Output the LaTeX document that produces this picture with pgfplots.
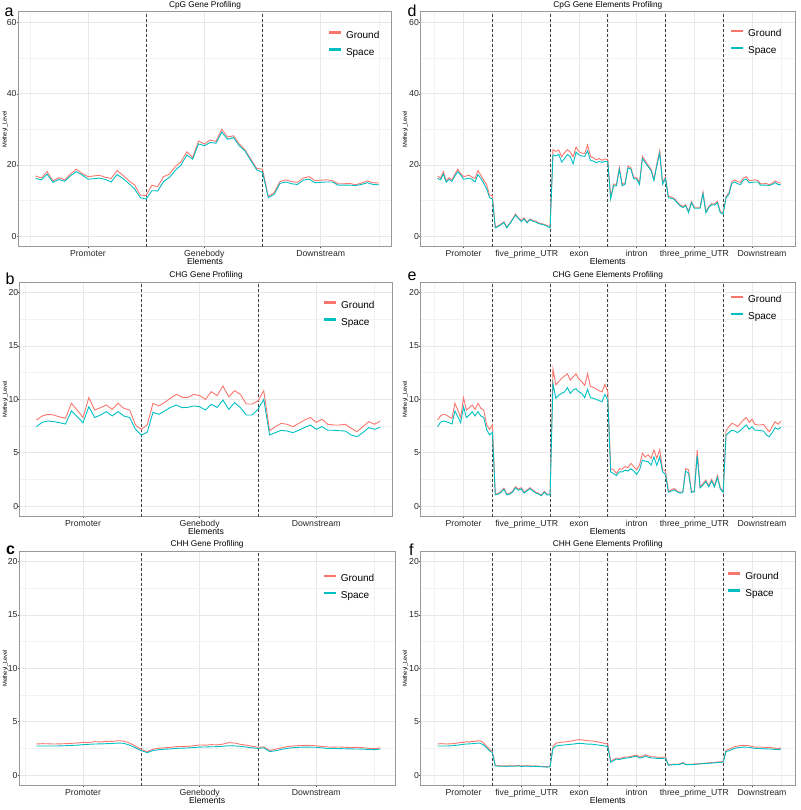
\documentclass[border=0pt]{standalone}
\usepackage{pgfplots}
\pgfplotsset{compat=1.18}
\usepackage{pgfplotstable}
\usepackage{fontspec}
\setmainfont{Liberation Sans}
\definecolor{gnd}{HTML}{F8766D}
\definecolor{spc}{HTML}{00BFC4}

\pgfplotstableread{
x g s
1 16.9 16.2
2 16.3 15.8
3 18.1 17.4
4 15.5 15.1
5 16.4 15.9
6 15.8 15.4
7 17.4 16.9
8 18.8 18.1
9 17.6 17.2
10 16.7 16.0
11 16.9 16.1
12 17.1 16.3
13 16.5 15.9
14 16.2 15.2
15 18.4 17.3
16 17.1 16.2
17 15.6 14.8
18 14.4 13.3
19 11.5 10.8
20 11.4 10.4
21 14.3 12.75
22 13.9 12.7
23 16.7 15.3
24 17.4 16.5
25 19.5 18.4
26 20.9 20.0
27 23.7 22.8
28 22.1 21.6
29 26.7 25.9
30 25.9 25.4
31 27.0 26.3
32 26.6 26.1
33 30.0 29.2
34 27.8 27.2
35 28.2 27.7
36 25.9 25.4
37 24.2 23.9
38 21.6 21.2
39 19.0 18.6
40 18.8 17.9
41 11.1 10.8
42 12.2 11.7
43 15.3 14.8
44 15.8 15.2
45 15.3 14.7
46 15.1 14.5
47 16.3 15.7
48 16.7 16.0
49 15.6 15.0
50 15.7 15.1
51 15.8 15.2
52 15.6 15.2
53 14.7 14.3
54 14.7 14.3
55 14.8 14.3
56 14.4 14.2
57 14.9 14.5
58 15.5 15.0
59 15.0 14.5
60 14.9 14.4
}\tabA

\pgfplotstableread{
x g s
2 8.06 7.44
3 8.44 7.85
4 8.6 7.97
5 8.53 7.91
6 8.35 7.81
7 8.22 7.69
8 9.63 8.91
9 9.0 8.38
10 8.3 7.81
11 10.16 9.31
12 9.0 8.3
13 9.22 8.53
14 9.47 8.85
15 9.06 8.44
16 9.63 8.85
17 9.16 8.44
18 9.0 8.3
19 7.6 7.19
20 7.19 6.66
21 7.6 6.91
22 9.63 8.78
23 9.38 8.6
24 9.72 8.91
25 10.1 9.25
26 10.47 9.47
27 10.19 9.22
28 10.19 9.25
29 10.47 9.38
30 10.35 9.31
31 10.0 9.0
32 10.72 9.53
33 10.35 9.25
34 11.25 9.94
35 10.25 9.06
36 10.81 9.69
37 10.47 9.22
38 9.56 8.53
39 9.56 8.53
40 9.85 9.06
41 10.81 10.0
42 7.06 6.66
43 7.44 6.88
44 7.75 7.1
45 7.66 7.03
46 7.44 6.88
47 7.75 7.1
48 8.06 7.35
49 8.3 7.6
50 7.85 7.19
51 8.13 7.44
52 7.66 7.1
53 7.6 7.1
54 7.6 7.06
55 7.66 7.03
56 7.28 6.66
57 6.97 6.5
58 7.44 6.88
59 7.91 7.35
60 7.66 7.19
61 7.97 7.38
}\tabB

\pgfplotstableread{
x g s
2 2.91 2.72
3 2.94 2.72
4 2.93 2.72
5 2.91 2.72
6 2.92 2.73
7 2.94 2.75
8 2.97 2.78
9 3.0 2.8
10 3.07 2.85
11 3.05 2.88
12 3.13 2.91
13 3.1 2.92
14 3.16 2.94
15 3.15 2.96
16 3.22 3.0
17 3.18 2.97
18 3.0 2.8
19 2.7 2.55
20 2.4 2.28
21 2.19 2.1
22 2.42 2.3
23 2.52 2.38
24 2.55 2.42
25 2.6 2.45
26 2.66 2.5
27 2.68 2.52
28 2.69 2.54
29 2.75 2.58
30 2.82 2.62
31 2.8 2.63
32 2.85 2.65
33 2.83 2.66
34 2.9 2.7
35 3.04 2.75
36 3.0 2.73
37 2.88 2.69
38 2.8 2.62
39 2.7 2.55
40 2.6 2.5
41 2.64 2.55
42 2.3 2.2
43 2.42 2.27
44 2.55 2.4
45 2.66 2.5
46 2.72 2.56
47 2.76 2.6
48 2.78 2.62
49 2.77 2.61
50 2.74 2.6
51 2.68 2.54
52 2.63 2.5
53 2.62 2.49
54 2.63 2.48
55 2.6 2.46
56 2.58 2.45
57 2.6 2.44
58 2.56 2.43
59 2.5 2.4
60 2.47 2.38
61 2.55 2.43
}\tabC

\pgfplotstableread{
x g s
1 16.9 16.2
2 16.3 15.8
3 18.1 17.4
4 15.5 15.1
5 16.4 15.9
6 15.8 15.4
7 17.4 16.9
8 18.8 18.1
9 17.6 17.2
10 16.7 16.0
11 16.9 16.1
12 17.1 16.3
13 16.5 15.9
14 16.2 15.2
15 18.4 17.3
16 17.1 16.2
17 15.6 14.8
18 14.4 13.3
19 11.5 10.8
20 11.4 10.4
21 2.5 2.3
22 2.9 2.7
23 3.4 3.2
24 4.0 3.8
25 2.5 2.3
26 3.6 3.4
27 4.8 4.6
28 6.2 5.9
29 5.1 4.9
30 4.4 4.1
31 5.1 4.8
32 3.9 3.7
33 4.8 4.6
34 4.4 4.2
35 4.2 3.9
36 3.7 3.5
37 3.5 3.3
38 3.3 3.1
39 2.9 2.7
40 2.7 2.3
41 24.3 22.8
42 23.8 22.5
43 24.2 23.0
44 22.3 20.8
45 23.4 21.8
46 24.3 22.9
47 23.6 22.3
48 22.3 20.3
49 25.0 23.6
50 23.7 22.8
51 23.3 22.5
52 23.2 22.4
53 25.6 24.0
54 22.4 21.2
55 22.0 21.1
56 21.4 20.6
57 21.8 21.0
58 21.3 20.7
59 21.7 21.0
60 21.4 20.9
61 10.9 10.4
62 14.6 14.1
63 14.5 14.1
64 19.3 18.8
65 14.5 14.1
66 15.0 14.6
67 19.7 19.2
68 19.2 18.8
69 16.5 16.1
70 16.4 16.0
71 15.0 14.5
72 22.4 21.8
73 21.1 20.6
74 19.9 19.5
75 18.8 18.4
76 16.0 15.6
77 20.3 19.8
78 24.0 23.3
79 15.0 14.6
80 16.6 16.2
81 11.2 10.8
82 11.0 10.6
83 10.6 10.3
84 9.7 9.4
85 8.8 8.5
86 8.3 8.0
87 8.8 8.5
88 6.9 6.6
89 9.7 9.4
90 8.1 7.8
91 8.1 7.8
92 8.1 7.8
93 12.4 11.9
94 6.9 6.5
95 8.3 8.0
96 9.1 8.8
97 9.0 8.7
98 9.8 9.4
99 6.9 6.5
100 6.6 6.2
101 11.1 10.8
102 12.2 11.7
103 15.3 14.8
104 15.8 15.2
105 15.3 14.7
106 15.1 14.5
107 16.3 15.7
108 16.7 16.0
109 15.6 15.0
110 15.7 15.1
111 15.8 15.2
112 15.6 15.2
113 14.7 14.3
114 14.7 14.3
115 14.8 14.3
116 14.4 14.2
117 14.9 14.5
118 15.5 15.0
119 15.0 14.5
120 14.9 14.4
}\tabD

\pgfplotstableread{
x g s
1 8.06 7.44
2 8.44 7.85
3 8.6 7.97
4 8.53 7.91
5 8.35 7.81
6 8.22 7.69
7 9.63 8.91
8 9.0 8.38
9 8.3 7.81
10 10.16 9.31
11 9.0 8.3
12 9.22 8.53
13 9.47 8.85
14 9.06 8.44
15 9.63 8.85
16 9.16 8.44
17 9.0 8.3
18 7.6 7.19
19 7.19 6.66
20 7.6 6.91
21 1.12 1.05
22 1.2 1.12
23 1.36 1.28
24 1.68 1.58
25 1.12 1.05
26 1.2 1.12
27 1.4 1.3
28 1.82 1.7
29 1.58 1.48
30 1.72 1.62
31 1.3 1.22
32 1.5 1.42
33 1.72 1.62
34 1.5 1.42
35 1.3 1.22
36 1.2 1.12
37 1.02 0.96
38 1.38 1.3
39 1.12 1.05
40 1.1 1.04
41 12.85 11.5
42 11.35 10.1
43 11.66 10.4
44 11.97 10.56
45 12.2 10.7
46 12.4 11.1
47 11.8 10.56
48 12.1 10.88
49 12.4 11.0
50 11.9 10.7
51 11.66 10.56
52 11.3 10.16
53 12.4 10.94
54 11.2 10.16
55 11.13 10.1
56 10.97 10.0
57 10.8 9.88
58 10.7 9.78
59 11.4 10.47
60 10.7 9.94
61 3.5 3.2
62 3.4 3.05
63 3.07 2.85
64 3.5 3.2
65 3.45 3.2
66 3.7 3.36
67 3.6 3.28
68 4.0 3.5
69 3.7 3.28
70 3.4 2.97
71 3.85 3.38
72 4.94 4.3
73 4.6 4.2
74 4.8 4.15
75 4.47 3.85
76 5.25 4.6
77 4.47 3.8
78 5.3 4.6
79 3.4 3.2
80 3.3 2.97
81 1.41 1.3
82 1.5 1.4
83 1.66 1.5
84 1.41 1.35
85 1.28 1.2
86 1.35 1.28
87 3.5 3.28
88 3.4 3.07
89 1.35 1.28
90 1.41 1.35
91 5.25 4.72
92 1.8 1.7
93 2.1 1.97
94 2.44 2.28
95 1.9 1.8
96 2.5 2.35
97 1.9 1.8
98 2.85 2.66
99 1.72 1.6
100 1.35 1.28
101 7.06 6.66
102 7.44 6.88
103 7.75 7.1
104 7.66 7.03
105 7.44 6.88
106 7.75 7.1
107 8.06 7.35
108 8.3 7.6
109 7.85 7.19
110 8.13 7.44
111 7.66 7.1
112 7.6 7.1
113 7.6 7.06
114 7.66 7.03
115 7.28 6.66
116 6.97 6.5
117 7.44 6.88
118 7.91 7.35
119 7.66 7.19
120 7.97 7.38
}\tabE

\pgfplotstableread{
x g s
1 2.91 2.72
2 2.94 2.72
3 2.93 2.72
4 2.91 2.72
5 2.92 2.73
6 2.94 2.75
7 2.97 2.78
8 3.0 2.8
9 3.07 2.85
10 3.05 2.88
11 3.13 2.91
12 3.1 2.92
13 3.16 2.94
14 3.15 2.96
15 3.22 3.0
16 3.18 2.97
17 3.0 2.8
18 2.7 2.55
19 2.4 2.28
20 2.19 2.1
21 0.9 0.86
22 0.88 0.84
23 0.86 0.82
24 0.87 0.83
25 0.85 0.81
26 0.88 0.84
27 0.86 0.82
28 0.87 0.83
29 0.9 0.86
30 0.85 0.81
31 0.86 0.82
32 0.88 0.84
33 0.86 0.82
34 0.84 0.8
35 0.86 0.82
36 0.83 0.79
37 0.82 0.78
38 0.8 0.76
39 0.78 0.74
40 0.82 0.78
41 2.7 2.5
42 2.98 2.72
43 3.04 2.76
44 3.08 2.8
45 3.1 2.82
46 3.14 2.85
47 3.18 2.88
48 3.22 2.9
49 3.28 2.94
50 3.32 2.97
51 3.3 2.96
52 3.26 2.93
53 3.22 2.9
54 3.2 2.9
55 3.18 2.88
56 3.14 2.84
57 3.08 2.8
58 3.02 2.76
59 2.96 2.72
60 2.9 2.66
61 1.3 1.2
62 1.45 1.35
63 1.6 1.5
64 1.55 1.45
65 1.62 1.52
66 1.68 1.58
67 1.7 1.6
68 1.75 1.65
69 1.82 1.72
70 1.88 1.76
71 1.7 1.6
72 1.75 1.62
73 1.9 1.78
74 1.8 1.68
75 1.72 1.6
76 1.7 1.6
77 1.68 1.56
78 1.66 1.55
79 1.67 1.56
80 1.7 1.58
81 0.95 0.92
82 0.98 0.95
83 1.02 0.98
84 1.0 0.97
85 1.05 1.0
86 1.18 1.14
87 1.0 0.97
88 1.02 0.98
89 1.0 0.97
90 1.04 1.0
91 1.06 1.02
92 1.08 1.04
93 1.1 1.06
94 1.12 1.08
95 1.14 1.1
96 1.16 1.12
97 1.2 1.15
98 1.22 1.17
99 1.24 1.19
100 1.26 1.2
101 2.3 2.2
102 2.42 2.27
103 2.55 2.4
104 2.66 2.5
105 2.72 2.56
106 2.76 2.6
107 2.78 2.62
108 2.77 2.61
109 2.74 2.6
110 2.68 2.54
111 2.63 2.5
112 2.62 2.49
113 2.63 2.48
114 2.6 2.46
115 2.58 2.45
116 2.6 2.44
117 2.56 2.43
118 2.5 2.4
119 2.47 2.38
120 2.55 2.43
}\tabF

\pgfplotsset{
  panel/.style={
    scale only axis, anchor=south west, height=234.7pt,
    axis line style={draw=black!40, line width=1pt},
    every tick/.style={black!70, line width=0.5pt},
    tick align=outside, major tick length=1.6pt, minor tick length=0pt,
    xtick pos=bottom, ytick pos=left,
    grid=both,
    major grid style={draw=black!9, line width=0.6pt},
    minor grid style={draw=black!5, line width=0.4pt},
    tick label style={font=\fontsize{8.7}{10}\selectfont, text=black!85},
    /pgf/number format/assume math mode=true,
    yticklabel style={anchor=east, inner sep=0pt, xshift=0pt},
    xticklabel style={anchor=base, inner sep=0pt, yshift=-8.5pt},
    title style={font=\fontsize{8.3}{10}\selectfont, at={(axis description cs:0.5,1)}, anchor=center, yshift=1pt, inner sep=0pt},
    ylabel={Metheyl\_Level},
    ylabel style={font=\fontsize{5.7}{7}\selectfont, anchor=center, inner sep=0pt},
    xlabel={Elements},
    xlabel style={font=\fontsize{8.6}{10}\selectfont, at={(axis description cs:0.5,0)}, anchor=base, yshift=-18pt, inner sep=0pt},
    legend style={draw=none, fill=none, inner sep=0pt, outer sep=0pt, anchor=north west,
      font=\fontsize{10}{12}\selectfont, row sep=7.5pt,
      nodes={inner sep=0pt, text height=7.5pt, text depth=2pt}},
    legend cell align=left,
    legend image code/.code={\draw[#1, line width=2.4pt] (0pt,3.4pt) -- (11.7pt,3.4pt); \path (16.5pt,0pt);},
    every axis plot/.append style={line width=0.9pt},
  },
  leftp/.style={
    xtick={10,30,50}, xticklabels={Promoter,Genebody,Downstream},
    minor xtick={0,20,40,60},
    extra x ticks={20,40}, extra x tick labels={},
    extra x tick style={grid=major, major grid style={draw=black!75, dash pattern=on 3pt off 2pt, line width=0.7pt}, major tick length=0pt},
  },
  rightp/.style={
    xmin=-4.85, xmax=124.9, width=374.3pt,
    xtick={10,30,50,70,90,110},
    xticklabels={Promoter,{\kern11pt five\_prime\_UTR},exon,intron,three\_prime\_UTR,{\kern20pt Downstream}},
    minor xtick={0,20,40,60,80,100,120},
    extra x ticks={20,40,60,80,100}, extra x tick labels={},
    extra x tick style={grid=major, major grid style={draw=black!75, dash pattern=on 3pt off 2pt, line width=0.7pt}, major tick length=0pt},
    ylabel style={at={(axis description cs:-0.041,0.5)}},
  },
  sixty/.style={ymin=-3, ymax=63, ytick={0,20,40,60}, minor ytick={10,30,50}},
  twenty/.style={ymin=-1, ymax=21, ytick={0,5,10,15,20}, minor ytick={2.5,7.5,12.5,17.5}},
}

\begin{document}
\begin{tikzpicture}
\useasboundingbox (0pt,0pt) rectangle (800pt,-810pt);

% a
\begin{axis}[panel, leftp, sixty, at={(18.3pt,-246.7pt)}, width=373.4pt,
  xmin=-1.96, xmax=62.2, title={CpG Gene Profiling},
  ylabel style={at={(axis description cs:-0.035,0.5)}},
  legend style={at={(axis description cs:0.829,0.919)}}]
\addplot[gnd] table[x=x, y=g] {\tabA};
\addplot[spc] table[x=x, y=s] {\tabA};
\legend{Ground,Space}
\end{axis}

% b
\begin{axis}[panel, leftp, twenty, at={(20pt,-516.7pt)}, width=372pt,
  xmin=-0.81, xmax=63.0, title={CHG Gene Profiling},
  ylabel style={at={(axis description cs:-0.039,0.5)}},
  legend style={at={(axis description cs:0.8145,0.919)}}]
\addplot[gnd] table[x=x, y=g] {\tabB};
\addplot[spc] table[x=x, y=s] {\tabB};
\legend{Ground,Space}
\end{axis}

% c
\begin{axis}[panel, leftp, twenty, at={(19.3pt,-785.7pt)}, width=375.7pt,
  xmin=-0.93, xmax=63.5, title={CHH Gene Profiling},
  ylabel style={at={(axis description cs:-0.037,0.5)}},
  legend style={at={(axis description cs:0.8076,0.900)}}]
\addplot[gnd] table[x=x, y=g] {\tabC};
\addplot[spc] table[x=x, y=s] {\tabC};
\legend{Ground,Space}
\end{axis}

% d
\begin{axis}[panel, rightp, sixty, at={(420.7pt,-246.7pt)},
  title={CpG Gene Elements Profiling},
  legend style={at={(axis description cs:0.8264,0.926)}}]
\addplot[gnd] table[x=x, y=g] {\tabD};
\addplot[spc] table[x=x, y=s] {\tabD};
\legend{Ground,Space}
\end{axis}

% e
\begin{axis}[panel, rightp, twenty, at={(420.7pt,-516.7pt)},
  title={CHG Gene Elements Profiling},
  legend style={at={(axis description cs:0.8264,0.943)}}]
\addplot[gnd] table[x=x, y=g] {\tabE};
\addplot[spc] table[x=x, y=s] {\tabE};
\legend{Ground,Space}
\end{axis}

% f
\begin{axis}[panel, rightp, twenty, at={(420.7pt,-785.7pt)},
  title={CHH Gene Elements Profiling},
  legend style={at={(axis description cs:0.8188,0.910)}}]
\addplot[gnd] table[x=x, y=g] {\tabF};
\addplot[spc] table[x=x, y=s] {\tabF};
\legend{Ground,Space}
\end{axis}

\node[anchor=base west, inner sep=0pt, font=\fontsize{16}{16}\selectfont] at (4.5pt,-16.2pt) {a};
\node[anchor=base west, inner sep=0pt, font=\fontsize{16}{16}\selectfont] at (5.5pt,-284pt) {b};
\node[anchor=base west, inner sep=0pt, font=\bfseries\fontsize{16}{16}\selectfont] at (6pt,-554pt) {c};
\node[anchor=base west, inner sep=0pt, font=\fontsize{16}{16}\selectfont] at (407.5pt,-16.5pt) {d};
\node[anchor=base west, inner sep=0pt, font=\fontsize{16}{16}\selectfont] at (407.5pt,-280pt) {e};
\node[anchor=base west, inner sep=0pt, font=\fontsize{16}{16}\selectfont] at (409pt,-555.5pt) {f};
\end{tikzpicture}
\end{document}
